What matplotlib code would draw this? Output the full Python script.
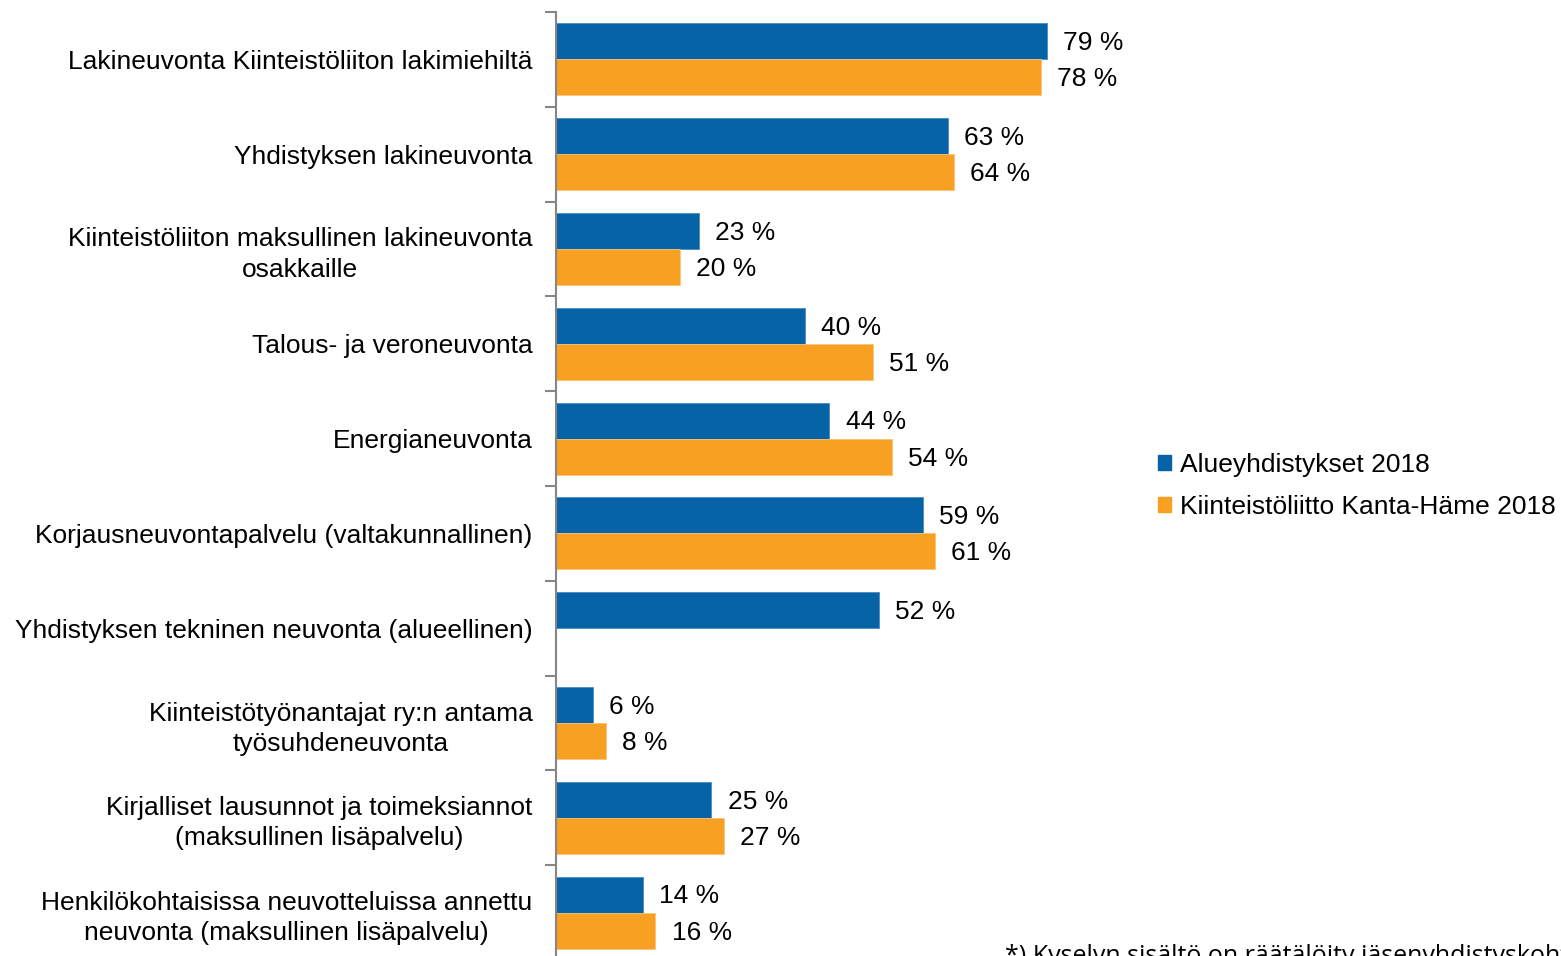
import numpy as np
import matplotlib
matplotlib.use("Agg")
import matplotlib.pyplot as plt
from matplotlib.patches import Patch

plt.rcParams['font.family'] = ['Liberation Sans', 'DejaVu Sans']

categories = [
    "Lakineuvonta Kiinteistöliiton lakimiehiltä",
    "Yhdistyksen lakineuvonta",
    "Kiinteistöliiton maksullinen lakineuvonta\nosakkaille",
    "Talous- ja veroneuvonta",
    "Energianeuvonta",
    "Korjausneuvontapalvelu (valtakunnallinen)",
    "Yhdistyksen tekninen neuvonta (alueellinen)",
    "Kiinteistötyönantajat ry:n antama\ntyösuhdeneuvonta",
    "Kirjalliset lausunnot ja toimeksiannot\n(maksullinen lisäpalvelu)",
    "Henkilökohtaisissa neuvotteluissa annettu\nneuvonta (maksullinen lisäpalvelu)",
]
alue = [79, 63, 23, 40, 44, 59, 52, 6, 25, 14]
kanta = [78, 64, 20, 51, 54, 61, np.nan, 8, 27, 16]
series_names = ["Alueyhdistykset 2018", "Kiinteistöliitto Kanta-Häme 2018"]

blue = "#0563a6"
orange = "#f7a021"
fs = 19

W, H = 1561, 956
fig = plt.figure(figsize=(W / 100, H / 100), dpi=100)
ax = fig.add_axes([556 / W, 1 - 960 / H, 621.5 / W, 948 / H])

y = np.arange(len(categories))
bh = 0.38
ax.barh(y - bh / 2, alue, height=bh, color=blue, edgecolor="#4a8cc4", linewidth=0.6)
ax.barh(y + bh / 2, kanta, height=bh, color=orange, edgecolor="#fbc27a", linewidth=0.6)

# value labels next to bar ends
for i in range(len(categories)):
    ax.text(alue[i] + 2.6, y[i] - bh / 2 + 0.02, f"{alue[i]} %", va="center", ha="left", fontsize=fs)
    if not np.isnan(kanta[i]):
        ax.text(kanta[i] + 2.6, y[i] + bh / 2 + 0.02, f"{kanta[i]:.0f} %", va="center", ha="left", fontsize=fs)

ax.set_xlim(0, 100)
ax.set_ylim(len(categories) - 0.5, -0.5)
ax.set_xticks([])
ax.set_yticks(y)
ax.set_yticklabels(categories, fontsize=fs, ha="right", multialignment="center", linespacing=1.32)
ax.tick_params(axis="y", which="major", length=0, pad=17)
ax.set_yticks(np.arange(len(categories) + 1) - 0.5, minor=True)
ax.tick_params(axis="y", which="minor", length=8, color="#868686", width=1.5)
for s in ["top", "right", "bottom"]:
    ax.spines[s].set_visible(False)
ax.spines["left"].set_color("#868686")
ax.spines["left"].set_linewidth(1.5)

handles = [Patch(color=blue), Patch(color=orange)]
fig.legend(handles, series_names, loc="center left", bbox_to_anchor=(1158 / W, 1 - 486 / H),
           frameon=False, fontsize=fs, handlelength=0.5, handleheight=0.5,
           handletextpad=0.35, labelspacing=0.7, borderpad=0, borderaxespad=0)

# footnote, cut off by the figure edge as in the original
fig.text(1005 / W, 1 - 944 / H, "*) Kyselyn sisältö on räätälöity jäsenyhdistyskohtaisesti",
         fontsize=18, family="Open Sans", va="top", ha="left")

fig.savefig("out.png", dpi=100)
